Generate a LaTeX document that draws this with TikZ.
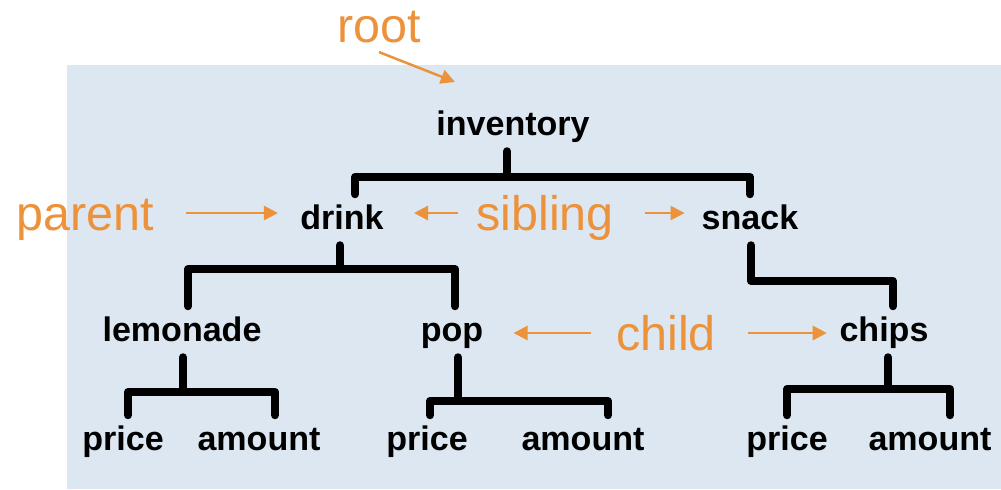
\documentclass[tikz,border=0pt]{standalone}
\usepackage{fontspec}
\setmainfont{Liberation Sans}
\usetikzlibrary{arrows.meta}

\definecolor{hint}{RGB}{236,146,58}
\definecolor{panel}{RGB}{220,231,242}

\tikzset{
  item/.style={anchor=base, inner xsep=0pt, inner ysep=4.5pt, text height=15pt, text depth=4.5pt,
    font=\bfseries\fontsize{19.3}{23}\selectfont},
  note/.style={anchor=base, inner sep=0pt, text height=24.75pt, text depth=5.5pt, text=hint,
    font=\fontsize{27.5}{33}\selectfont},
  branch/.style={line width=4.5pt, line cap=round, line join=round},
  pointer/.style={draw=hint, line width=1.4pt, -{Triangle[length=8pt,width=8pt]}}
}

\begin{document}
\begin{tikzpicture}[x=0.5669pt, y=-0.5669pt]
\useasboundingbox (0,0) rectangle (1001,489);
\fill[panel] (67,65) rectangle (1001,489);

% the tree
\node[item] (inventory) at (513,135) {inventory};
\node[item] (drink) at (342,229) {drink};
\node[item] (snack) at (750,229) {snack};
\node[item] (lemonade) at (182,341) {lemonade};
\node[item] (pop) at (452,341) {pop};
\node[item] (chips) at (884,341) {chips};
\node[item] (lemonade-price) at (123,450) {price};
\node[item] (lemonade-amount) at (259,450) {amount};
\node[item] (pop-price) at (427,450) {price};
\node[item] (pop-amount) at (583,450) {amount};
\node[item] (chips-price) at (787,450) {price};
\node[item] (chips-amount) at (930,450) {amount};

\coordinate (inv-l) at (355,177); \coordinate (inv-m) at (507,177); \coordinate (inv-r) at (750,177);
\draw[branch] (inv-m |- inventory.south) -- (inv-m);
\draw[branch] (inv-l |- drink.north) -- (inv-l) -- (inv-r) -- (inv-r |- snack.north);

\coordinate (dr-l) at (188,269); \coordinate (dr-m) at (340,269); \coordinate (dr-r) at (455,269);
\draw[branch] (dr-m |- drink.south) -- (dr-m);
\draw[branch] (dr-l |- lemonade.north) -- (dr-l) -- (dr-r) -- (dr-r |- pop.north);

\coordinate (sn-m) at (751,281); \coordinate (sn-r) at (893,281);
\draw[branch] (sn-m |- snack.south) -- (sn-m) -- (sn-r) -- (sn-r |- chips.north);

\coordinate (le-l) at (128,392); \coordinate (le-m) at (183,392); \coordinate (le-r) at (275,392);
\draw[branch] (le-m |- lemonade.south) -- (le-m);
\draw[branch] (le-l |- lemonade-price.north) -- (le-l) -- (le-r) -- (le-r |- lemonade-amount.north);

\coordinate (po-l) at (430,401); \coordinate (po-m) at (458,401); \coordinate (po-r) at (608,401);
\draw[branch] (po-m |- pop.south) -- (po-m);
\draw[branch] (po-l |- pop-price.north) -- (po-l) -- (po-r) -- (po-r |- pop-amount.north);

\coordinate (ch-l) at (787,389); \coordinate (ch-m) at (888,389); \coordinate (ch-r) at (950,389);
\draw[branch] (ch-m |- chips.south) -- (ch-m);
\draw[branch] (ch-l |- chips-price.north) -- (ch-l) -- (ch-r) -- (ch-r |- chips-amount.north);

% the terms
\node[note] (root) at (379,42) {root};
\node[note] (parent) at (85,230) {parent};
\node[note] (sibling) at (545,230) {sibling};
\node[note] (child) at (666,350) {child};

\coordinate (root-tip) at (455,82);
\draw[pointer] (root.south) -- (root-tip);
\draw[pointer, shorten <=18pt, shorten >=12.5pt] (parent.east) -- (parent.east -| drink.west);
\draw[pointer, shorten <=10pt, shorten >=17pt] (sibling.west) -- (sibling.west -| drink.east);
\draw[pointer, shorten <=17.5pt, shorten >=9.5pt] (sibling.east) -- (sibling.east -| snack.west);
\draw[pointer, shorten <=14pt, shorten >=17pt] (child.west) -- (child.west -| pop.east);
\draw[pointer, shorten <=18pt, shorten >=7pt] (child.east) -- (child.east -| chips.west);

\end{tikzpicture}
\end{document}
